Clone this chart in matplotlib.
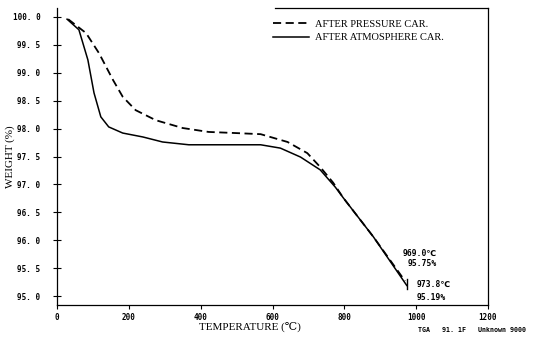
import matplotlib
matplotlib.use("Agg")
import matplotlib.pyplot as plt

# Data
temp_pressure = [31, 81, 117, 156, 183, 219, 275, 350, 422, 497, 567, 642, 697, 733, 769, 797, 881, 969.0]
weight_pressure = [99.96, 99.71, 99.35, 98.87, 98.57, 98.33, 98.15, 98.01, 97.94, 97.92, 97.90, 97.76, 97.56, 97.31, 97.03, 96.76, 96.06, 95.27]

temp_atmos = [28, 61, 86, 103, 122, 144, 183, 239, 294, 367, 497, 567, 622, 678, 733, 775, 797, 881, 973.8]
weight_atmos = [99.96, 99.77, 99.23, 98.64, 98.21, 98.03, 97.92, 97.85, 97.76, 97.71, 97.71, 97.71, 97.65, 97.49, 97.26, 96.95, 96.76, 96.06, 95.19]

x_ticks = [0, 200, 400, 600, 800, 1000, 1200]
y_ticks = [95.0, 95.5, 96.0, 96.5, 97.0, 97.5, 98.0, 98.5, 99.0, 99.5, 100.0]
labels = ["AFTER PRESSURE CAR.", "AFTER ATMOSPHERE CAR."]

W, H = 539, 343
fig = plt.figure(figsize=(W / 100, H / 100), dpi=100)
ax = fig.add_axes([57 / W, (H - 305) / H, 431 / W, 297 / H])

ax.plot(temp_pressure, weight_pressure, color="black", lw=1.3, ls=(0, (4.5, 2.5)), label=labels[0])
ax.plot(temp_atmos, weight_atmos, color="black", lw=1.1, label=labels[1])

ax.set_xlim(0, 1200)
ax.set_ylim(94.84, 100.16)
ax.set_xticks(x_ticks)
ax.set_yticks(y_ticks)
mono = {"family": ["DejaVu Sans Mono", "DejaVu Sans"], "weight": "bold", "size": 5.5}
ax.set_xticklabels([str(t) for t in x_ticks], fontdict=mono)
ax.set_yticklabels([f"{t:.1f}".replace(".", ". ") for t in y_ticks], fontdict=mono)
ax.tick_params(axis="y", direction="inout", length=6, width=0.8, pad=9)
ax.tick_params(axis="x", direction="out", length=3, width=0.8, pad=3)

ax.spines["top"].set_visible(False)
for s in ["left", "bottom", "right"]:
    ax.spines[s].set_linewidth(0.9)
# partial top border (legend box)
ax.plot([0.505, 1.0], [1.0, 1.0], transform=ax.transAxes, color="black", lw=0.9, clip_on=False)

serif = {"family": ["Liberation Serif", "DejaVu Serif", "DejaVu Sans"], "size": 8}
ax.set_xlabel("TEMPERATURE (\u2103)", fontdict=serif)
ax.xaxis.set_label_coords(0.448, -0.055)
ax.set_ylabel("WEIGHT (%)", fontdict=serif)
ax.yaxis.set_label_coords(-0.098, 0.5)

leg = ax.legend(loc="upper left", bbox_to_anchor=(0.485, 0.985), frameon=False,
                prop={"family": "Liberation Serif", "size": 7.5},
                handlelength=3.4, handletextpad=0.6, labelspacing=0.4, borderpad=0.2)

ann = {"family": ["DejaVu Sans Mono", "DejaVu Sans"], "weight": "bold", "size": 5.8}
ax.text(963, 95.77, "969.0\u2103", fontdict=ann, va="center", ha="left")
ax.text(975, 95.58, "95.75%", fontdict=ann, va="center", ha="left")
ax.text(1000, 95.2, "973.8\u2103", fontdict=ann, va="center", ha="left")
ax.text(1000, 94.98, "95.19%", fontdict=ann, va="center", ha="left")
ax.plot([973.8, 973.8], [95.12, 95.3], color="black", lw=1.0)

fig.text(418 / W, 1 - 330 / H, "TGA   91. 1F   Unknown 9000",
         fontdict={"family": "DejaVu Sans Mono", "size": 4.8, "weight": "bold"}, va="center", ha="left")

fig.savefig("out.png", dpi=100)
